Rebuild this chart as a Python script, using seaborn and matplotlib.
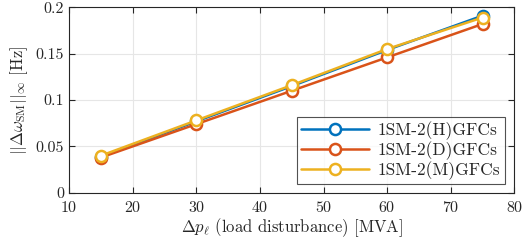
import numpy as np
import pandas as pd
import matplotlib
matplotlib.use('Agg')
import matplotlib.pyplot as plt
import seaborn as sns

# data
load_mva = [15, 30, 45, 60, 75]
omega_h = [0.039, 0.077, 0.115, 0.154, 0.191]
omega_d = [0.038, 0.074, 0.110, 0.146, 0.182]
omega_m = [0.040, 0.078, 0.116, 0.155, 0.189]
series_names = ['1SM-2(H)GFCs', '1SM-2(D)GFCs', '1SM-2(M)GFCs']
colors = ['#0072BD', '#D95319', '#EDB120']

sns.set_style('ticks')
plt.rcParams['font.family'] = 'serif'
plt.rcParams['font.serif'] = ['cmr10']
plt.rcParams['mathtext.fontset'] = 'cm'
plt.rcParams['axes.formatter.use_mathtext'] = True
plt.rcParams['axes.unicode_minus'] = False

df = pd.DataFrame({
    'load': load_mva * 3,
    'omega': omega_h + omega_d + omega_m,
    'case': sum([[n] * len(load_mva) for n in series_names], []),
})

fig, ax = plt.subplots(figsize=(5.27, 2.44), dpi=100)
sns.lineplot(data=df, x='load', y='omega', hue='case', palette=colors,
             marker='o', markersize=8, markerfacecolor='white',
             markeredgewidth=1.8, linewidth=1.8, ax=ax)
# keep marker edges in line colour
for line, c in zip(ax.get_lines(), colors):
    line.set_markeredgecolor(c)

ax.set_xlim(10, 80)
ax.set_ylim(0, 0.2)
ax.set_xticks(np.arange(10, 81, 10))
ax.set_yticks([0, 0.05, 0.1, 0.15, 0.2])
ax.set_yticklabels(['0', '0.05', '0.1', '0.15', '0.2'])
ax.grid(True, color='#e6e6e6', linewidth=0.8)
ax.tick_params(direction='in', top=True, right=True, labelsize=11.5, length=4,
               color='#262626', labelcolor='#262626')
ax.tick_params(axis='x', pad=5)
for s in ax.spines.values():
    s.set_color('#262626')
    s.set_linewidth(0.8)

ax.set_xlabel(r'$\Delta p_\ell$ (load disturbance) [MVA]', fontsize=12, labelpad=1)
ax.set_ylabel(r'$||\Delta\omega_{\mathrm{SM}}||_\infty$ [Hz]', fontsize=12, labelpad=4)

leg = ax.legend(loc='lower right', fontsize=12.5, frameon=True, fancybox=False,
                edgecolor='#262626', handlelength=3.9, borderpad=0.25,
                labelspacing=0.05, handletextpad=0.5, borderaxespad=0.3,
                bbox_to_anchor=(0.99, 0.02))
leg.get_frame().set_linewidth(0.8)
for h, c in zip(leg.legend_handles, colors):
    h.set_markerfacecolor('white')
    h.set_markeredgecolor(c)

fig.subplots_adjust(left=0.131, right=0.976, bottom=0.21, top=0.97)
fig.savefig('out.png', dpi=100)
